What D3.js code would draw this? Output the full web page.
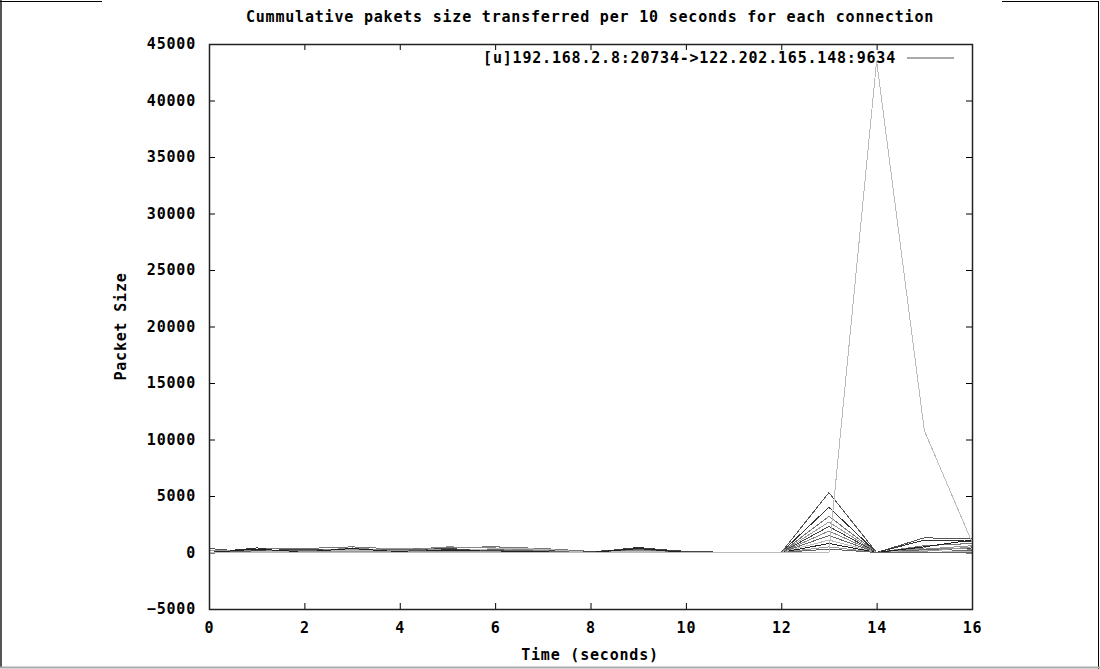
<!DOCTYPE html>
<html>

<head>
  <meta charset="UTF-8">
  <script src="https://d3js.org/d3.v7.js"></script>
  <style>
    body { margin: 0; background: #fff; }
    text { font-family: "DejaVu Sans Mono", "Liberation Mono", monospace; font-weight: bold; font-size: 15px; letter-spacing: 0.8px; fill: #000; }
  </style>
</head>

<body>
  <div id="chart"></div>

  <script>
    // data

    const times = [0, 1, 2, 3, 4, 5, 6, 7, 8, 9, 10, 11, 12, 13, 14, 15, 16];

    const legendLabel = "[u]192.168.2.8:20734->122.202.165.148:9634";

    // one array per connection, packet size at each second
    const conn01 = [350, 0, 200, 150, 100, 250, 150, 300, 0, 350, 0, 0, 0, 5300, 0, 1300, 1200];
    const conn02 = [0, 0, 0, 0, 0, 0, 0, 0, 0, 0, 0, 0, 0, 0, 43500, 10800, 900];
    const conn03 = [0, 400, 250, 300, 200, 300, 200, 100, 0, 450, 50, 0, 0, 4000, 0, 1100, 1000];
    const conn04 = [0, 300, 350, 500, 300, 450, 500, 350, 100, 250, 0, 0, 0, 3200, 0, 600, 800];
    const conn05 = [200, 200, 150, 250, 350, 200, 300, 250, 0, 150, 0, 0, 0, 2700, 0, 300, 600];
    const conn06 = [0, 150, 300, 150, 250, 350, 150, 200, 50, 400, 100, 0, 0, 2300, 0, 200, 400];
    const conn07 = [0, 250, 100, 400, 150, 500, 400, 150, 0, 200, 0, 0, 0, 1900, 0, 400, 300];
    const conn08 = [0, 100, 200, 100, 300, 150, 250, 100, 0, 300, 0, 0, 0, 1500, 0, 250, 200];
    const conn09 = [0, 50, 100, 200, 100, 100, 350, 300, 0, 100, 0, 0, 0, 1100, 0, 150, 100];
    const conn10 = [0, 300, 50, 350, 50, 200, 100, 50, 0, 350, 0, 0, 0, 800, 0, 500, 1100];
    const conn11 = [0, 0, 50, 50, 150, 50, 50, 0, 0, 0, 0, 0, 0, 500, 0, 100, 500];
    const conn12 = [0, 0, 0, 0, 0, 0, 0, 0, 0, 0, 0, 0, 0, 300, 0, 0, 0];

    const series = [conn01, conn03, conn04, conn05, conn06, conn07, conn08, conn09, conn10, conn11, conn12, conn02];
    const shades = ["#555", "#333", "#777", "#999", "#444", "#888", "#666", "#bbb", "#222", "#999", "#666", "#bbb"];

    const yTicks = [-5000, 0, 5000, 10000, 15000, 20000, 25000, 30000, 35000, 40000, 45000];
    const xTicks = [0, 2, 4, 6, 8, 10, 12, 14, 16];

    // set up

    const W = 1100, H = 669;
    const margin = { top: 44, right: 128, bottom: 60, left: 209 };
    const width = W - margin.left - margin.right;
    const height = H - margin.top - margin.bottom;

    const root = d3.select('#chart')
      .append('svg')
        .attr('width', W)
        .attr('height', H);

    // page frame around the picture
    const frame = root.append('g').attr('fill', 'none');
    frame.append('line').attr('x1', 1).attr('x2', 1).attr('y1', 0).attr('y2', 667).attr('stroke', '#555').attr('stroke-width', 2);
    frame.append('line').attr('x1', 0).attr('x2', 102).attr('y1', 1.5).attr('y2', 1.5).attr('stroke', '#000');
    frame.append('line').attr('x1', 1002).attr('x2', 1098).attr('y1', 1.5).attr('y2', 1.5).attr('stroke', '#000');
    frame.append('line').attr('x1', 1098.5).attr('x2', 1098.5).attr('y1', 1).attr('y2', 669).attr('stroke', '#000');
    frame.append('line').attr('x1', 0).attr('x2', W).attr('y1', 667.5).attr('y2', 667.5).attr('stroke', '#aaa').attr('stroke-width', 2);

    const svg = root.append('g')
        .attr('transform', `translate(${margin.left},${margin.top})`);

    // scales

    const x = d3.scaleLinear()
        .domain([0, 16])
        .range([0, width]);

    const y = d3.scaleLinear()
        .domain([-5000, 45000])
        .range([height, 0]);

    // axes (gnuplot style: inward ticks, mirrored)

    const tick = 6;

    svg.append('g')
        .attr('transform', `translate(0,${height})`)
        .call(d3.axisBottom(x).tickValues(xTicks).tickSize(-tick).tickPadding(13).tickFormat(d3.format('d')))
        .call(g => g.select('.domain').remove())
        .call(g => g.selectAll('text').attr('dy', '0.71em').attr('font-size', null).attr('font-family', null));

    svg.append('g')
        .call(d3.axisTop(x).tickValues(xTicks).tickSize(-tick).tickFormat(''))
        .call(g => g.select('.domain').remove());

    svg.append('g')
        .call(d3.axisLeft(y).tickValues(yTicks).tickSize(-tick).tickPadding(13).tickFormat(d3.format('d')))
        .call(g => g.select('.domain').remove())
        .call(g => g.selectAll('text').attr('font-size', null).attr('font-family', null));

    svg.append('g')
        .attr('transform', `translate(${width},0)`)
        .call(d3.axisRight(y).tickValues(yTicks).tickSize(-tick).tickFormat(''))
        .call(g => g.select('.domain').remove());

    svg.selectAll('.tick line').attr('stroke', '#000');

    // lines

    const line = d3.line()
        .x((d, i) => x(times[i]))
        .y(d => y(d));

    svg.append('g')
        .attr('fill', 'none')
        .attr('stroke-width', 1)
        .attr('shape-rendering', 'crispEdges')
      .selectAll('path')
      .data(series)
      .join('path')
        .attr('stroke', (d, i) => shades[i])
        .attr('d', line);

    // border

    svg.append('rect')
        .attr('x', 0.5).attr('y', 0.5)
        .attr('width', width).attr('height', height)
        .attr('fill', 'none')
        .attr('stroke', '#222')
        .attr('stroke-width', 1.5);

    // legend

    const legend = svg.append('g')
        .attr('transform', `translate(${width - 18},14)`);

    legend.append('text')
        .attr('x', -58)
        .attr('dy', '0.35em')
        .attr('text-anchor', 'end')
        .text(legendLabel);

    legend.append('line')
        .attr('x1', -47).attr('x2', 0)
        .attr('stroke', '#555');

    // titles

    root.append('text')
        .attr('x', 590)
        .attr('y', 22)
        .attr('text-anchor', 'middle')
        .text('Cummulative pakets size transferred per 10 seconds for each connection');

    root.append('text')
        .attr('x', 590)
        .attr('y', 660)
        .attr('text-anchor', 'middle')
        .text('Time (seconds)');

    root.append('text')
        .attr('transform', `translate(126,${margin.top + height / 2}) rotate(-90)`)
        .attr('text-anchor', 'middle')
        .text('Packet Size');
  </script>
</body>

</html>
